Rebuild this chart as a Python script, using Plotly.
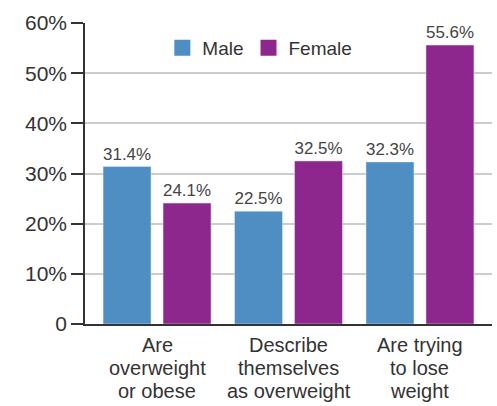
import plotly.graph_objects as go

categories = ["Are overweight or obese", "Describe themselves as overweight", "Are trying to lose weight"]
category_lines = [["Are", "overweight", "or obese"],
                  ["Describe", "themselves", "as overweight"],
                  ["Are trying", "to lose", "weight"]]
male = [31.4, 22.5, 32.3]
female = [24.1, 32.5, 55.6]
tick_vals = [0, 10, 20, 30, 40, 50, 60]
tick_text = ["0", "10%", "20%", "30%", "40%", "50%", "60%"]

MALE_C = "#4E8EC3"
FEMALE_C = "#8E278D"
FONT = "Liberation Sans"
TXT = "#333333"

fig = go.Figure()
fig.add_trace(go.Bar(x=categories, y=male, name="Male", marker_color=MALE_C,
                     text=[f"{v:.1f}%" for v in male], textposition="outside",
                     textfont=dict(size=18, color="#444444", family=FONT),
                     cliponaxis=False, showlegend=False))
fig.add_trace(go.Bar(x=categories, y=female, name="Female", marker_color=FEMALE_C,
                     text=[f"{v:.1f}%" for v in female], textposition="outside",
                     textfont=dict(size=18, color="#444444", family=FONT),
                     cliponaxis=False, showlegend=False))
# legend proxies with larger square symbols
fig.add_trace(go.Scatter(x=[None], y=[None], mode="markers", name="Male",
                         marker=dict(symbol="square", size=17, color=MALE_C)))
fig.add_trace(go.Scatter(x=[None], y=[None], mode="markers", name="Female",
                         marker=dict(symbol="square", size=17, color=FEMALE_C)))

for cat, lines in zip(categories, category_lines):
    for i, ln in enumerate(lines):
        fig.add_annotation(x=cat, xref="x", y=0, yref="paper", yanchor="middle",
                           text=ln, showarrow=False, yshift=-21 - 23 * i,
                           font=dict(size=20, color=TXT, family=FONT))

fig.update_layout(
    width=497, height=406,
    margin=dict(l=85, r=5, t=23, b=82),
    plot_bgcolor="white", paper_bgcolor="white",
    barmode="group", bargap=0.0875, bargroupgap=0.2,
    font=dict(family=FONT, color=TXT),
    legend=dict(orientation="h", x=0.19, y=0.917, xanchor="left", yanchor="middle",
                font=dict(size=19, color=TXT, family=FONT), bgcolor="rgba(0,0,0,0)",
                itemwidth=30),
    xaxis=dict(showticklabels=False, showline=True, linecolor="#333333", linewidth=1.5,
               ticks="", showgrid=False, fixedrange=True, range=[-0.548, 2.548]),
    yaxis=dict(range=[0, 60], tickvals=tick_vals, ticktext=tick_text,
               showline=True, linecolor="#333333", linewidth=1.5,
               ticks="outside", ticklen=12, tickcolor="#333333", tickwidth=1.5,
               showgrid=True, gridcolor="#CCCCCC", gridwidth=1.5,
               tickfont=dict(size=21, color=TXT, family=FONT), zeroline=False),
)

fig.write_html("out.html")
